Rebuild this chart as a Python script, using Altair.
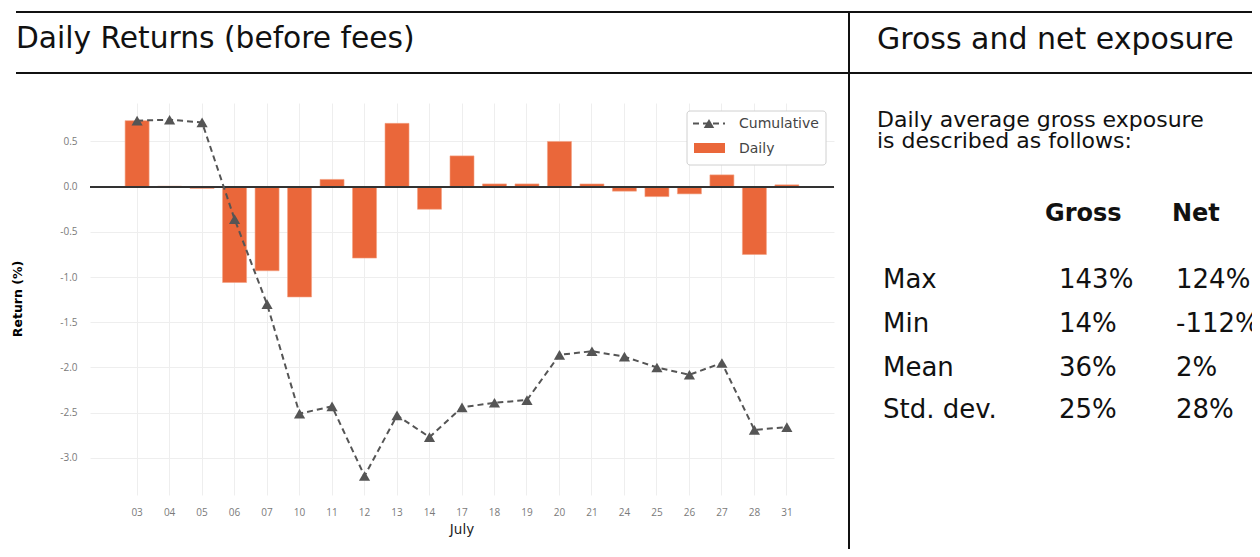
import altair as alt
import pandas as pd

# ---- data ----
days = ["03", "04", "05", "06", "07", "10", "11", "12", "13", "14", "17",
        "18", "19", "20", "21", "24", "25", "26", "27", "28", "31"]
daily = [0.73, 0.005, -0.02, -1.06, -0.93, -1.22, 0.08, -0.79, 0.70, -0.25, 0.34,
         0.03, 0.03, 0.50, 0.03, -0.05, -0.11, -0.08, 0.13, -0.75, 0.02]
cumulative = [0.73, 0.74, 0.71, -0.36, -1.30, -2.51, -2.43, -3.20, -2.53, -2.77, -2.44,
              -2.39, -2.36, -1.86, -1.82, -1.88, -2.00, -2.08, -1.95, -2.69, -2.66]
y_ticks = [-3.0, -2.5, -2.0, -1.5, -1.0, -0.5, 0.0, 0.5]

stat_labels = ["Max", "Min", "Mean", "Std. dev."]
gross_vals = ["143%", "14%", "36%", "25%"]
net_vals = ["124%", "-112%", "2%", "28%"]

left_title = "Daily Returns (before fees)"
right_title = "Gross and net exposure"
intro_lines = ["Daily average gross exposure", "is described as follows:"]

df = pd.DataFrame({"day": days, "daily": daily, "cumulative": cumulative})

ORANGE = "#EA673A"
LINE = "#555555"
TXT_FONT = "DejaVu Sans"
AX_FONT = "Open Sans"

xenc = alt.X("day:N", sort=days,
             scale=alt.Scale(paddingInner=0.1, paddingOuter=1.0),
             axis=alt.Axis(title=None, grid=True, gridColor="#eeeeee", domain=False,
                           ticks=False, labelAngle=0, labelPadding=12,
                           labelFontSize=10, labelColor="#7a7a7a", labelFont=AX_FONT))
yscale = alt.Scale(domain=[-3.41, 0.925], nice=False, zero=False)
yaxis = alt.Axis(title=None, values=y_ticks, grid=True, gridColor="#eeeeee", domain=False,
                 ticks=False, labelPadding=13, labelFontSize=10, labelColor="#7a7a7a",
                 labelFont=AX_FONT,
                 labelExpr="replace(format(datum.value, '.1f'), '\u2212', '-')")

base = alt.Chart(df)
bars = base.mark_bar(color=ORANGE, stroke="#f4a183", strokeWidth=0.6, width=24).encode(
    x=xenc, y=alt.Y("daily:Q", scale=yscale, axis=yaxis))
zero = base.mark_rule(color="#333333", strokeWidth=1.5).encode(y=alt.datum(0))
line = base.mark_line(color=LINE, strokeWidth=2, strokeDash=[6, 4]).encode(
    x=alt.X("day:N", sort=days), y=alt.Y("cumulative:Q"))
pts = base.mark_point(shape="triangle-up", filled=True, color=LINE, size=125, opacity=1).encode(
    x=alt.X("day:N", sort=days), y=alt.Y("cumulative:Q"))

one = alt.Data(values=[{"k": 1}])


def txt(s, x, y, size, weight="normal", font=TXT_FONT, color="#111111",
        align="left", baseline="alphabetic", angle=0):
    kw = dict(fontSize=size, fontWeight=weight, font=font, color=color,
              align=align, baseline=baseline)
    if angle:
        kw["angle"] = angle
    return alt.Chart(one).mark_text(**kw).encode(
        x=alt.value(x), y=alt.value(y), text=alt.value(s))


def hrule(x1, x2, y, color="#111111", w=2, dash=None):
    kw = dict(color=color, strokeWidth=w)
    if dash:
        kw["strokeDash"] = dash
    return alt.Chart(one).mark_rule(**kw).encode(
        x=alt.value(x1), x2=alt.value(x2), y=alt.value(y))


deco = []
# frame lines
deco.append(hrule(-74, 1162, -91))
deco.append(hrule(-74, 758, -30))
deco.append(hrule(760, 1162, -30))
deco.append(alt.Chart(one).mark_rule(color="#111111", strokeWidth=2).encode(
    x=alt.value(759), y=alt.value(-91), y2=alt.value(446)))
# titles
deco.append(txt(left_title, -74, -55, 29.7))
deco.append(txt(right_title, 787, -54, 30))
# axis titles
deco.append(txt("Return (%)", -72, 196, 12.5, weight="bold",
                color="#000000", align="center", baseline="middle", angle=270))
deco.append(txt("July", 372, 427, 13.5, color="#222222",
                align="center", baseline="middle"))
# legend
deco.append(alt.Chart(one).mark_rect(fill="white", stroke="#d0d0d0", strokeWidth=1,
                                     cornerRadius=3).encode(
    x=alt.value(597), x2=alt.value(736), y=alt.value(8), y2=alt.value(62)))
deco.append(hrule(603, 635, 20.5, color=LINE, w=2, dash=[6, 4]))
deco.append(alt.Chart(one).mark_point(shape="triangle-up", filled=True, color=LINE,
                                      size=110, opacity=1).encode(
    x=alt.value(619), y=alt.value(20.5)))
deco.append(alt.Chart(one).mark_rect(color=ORANGE).encode(
    x=alt.value(604), x2=alt.value(635), y=alt.value(40), y2=alt.value(50)))
deco.append(txt("Cumulative", 649, 21, 14, color="#444444", baseline="middle"))
deco.append(txt("Daily", 649, 46, 14, color="#444444", baseline="middle"))
# right panel text
deco.append(txt(intro_lines[0], 787, 24, 22))
deco.append(txt(intro_lines[1], 787, 45, 22))
deco.append(txt("Gross", 955, 118, 24, weight="bold"))
deco.append(txt("Net", 1082, 118, 24, weight="bold"))
row_y = [185, 229, 273, 315]
for lab, g, n, yy in zip(stat_labels, gross_vals, net_vals, row_y):
    deco.append(txt(lab, 793, yy, 26))
    deco.append(txt(g, 969, yy, 26))
    deco.append(txt(n, 1086, yy, 26))

chart = alt.layer(bars, zero, line, pts, *deco).properties(
    width=744, height=392,
    autosize=alt.AutoSizeParams(type="none"),
    padding={"left": 82, "top": 95, "right": 418, "bottom": 54},
    background="white",
).configure_view(stroke=None)

chart.save("out.html", embed_options={"renderer": "svg", "actions": False})
